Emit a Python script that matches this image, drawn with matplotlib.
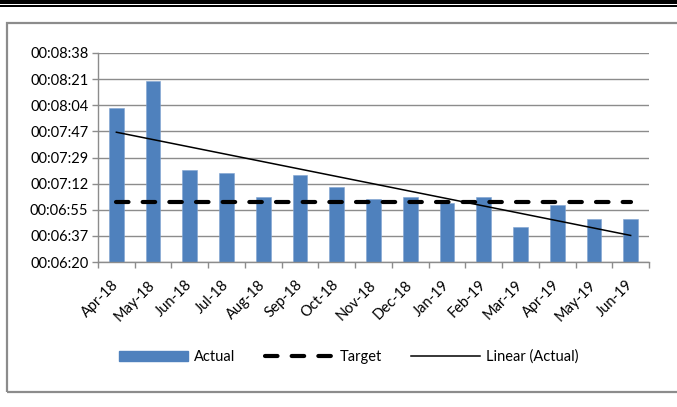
import matplotlib.pyplot as plt
import numpy as np
from matplotlib.patches import Rectangle
from matplotlib.lines import Line2D
from matplotlib.patches import Patch

months = ['Apr-18', 'May-18', 'Jun-18', 'Jul-18', 'Aug-18', 'Sep-18', 'Oct-18', 'Nov-18',
          'Dec-18', 'Jan-19', 'Feb-19', 'Mar-19', 'Apr-19', 'May-19', 'Jun-19']
# actual times in seconds
actual = [482, 500, 441, 439, 423, 438, 430, 421.5, 423, 419, 423, 403.5, 418, 408.5, 408.5]
target = [420] * len(months)
# y ticks in fraction of a day (excel time axis)
ytick_days = [0.0044, 0.0046, 0.0048, 0.0050, 0.0052, 0.0054, 0.0056, 0.0058, 0.0060]

def fmt_time(sec):
    s = int(round(sec))
    return '%02d:%02d:%02d' % (s // 3600, (s % 3600) // 60, s % 60)

plt.rcParams['font.family'] = ['Lato', 'DejaVu Sans']
fs = 10.5

fig = plt.figure(figsize=(6.77, 4.07), dpi=100)
W, H = 677, 407

# the double rule at the top of the page
fig.add_artist(Rectangle((0, 1 - 4 / H), 1, 4 / H, transform=fig.transFigure, color='black', lw=0))
fig.add_artist(Rectangle((0, 1 - 7.3 / H), 1, 2.3 / H, transform=fig.transFigure, color='black', lw=0))
# chart frame
fig.add_artist(Rectangle((7 / W, 15 / H), 1.05, (392 - 23) / H, transform=fig.transFigure,
                         fill=False, ec='#8c8c8c', lw=1.6))

ax = fig.add_axes([98 / W, (H - 262) / H, (649 - 98) / W, (262 - 53) / H])
x = np.arange(len(months))
yticks = [d * 86400 for d in ytick_days]

ax.bar(x, actual, width=0.4, color='#4F81BD', edgecolor='#7fa3d1', linewidth=0.4, zorder=2)
ax.plot(x, target, color='black', lw=3, dashes=(3, 3.4), dash_capstyle='round', zorder=3)
coef = np.polyfit(x, actual, 1)
ax.plot(x, np.polyval(coef, x), color='black', lw=1.1, zorder=4)

ax.set_xlim(-0.5, len(months) - 0.5)
ax.set_ylim(yticks[0], yticks[-1])
ax.set_yticks(yticks)
ax.set_yticklabels([fmt_time(v) for v in yticks], fontsize=fs)
ax.grid(axis='y', color='#8c8c8c', lw=1.0, zorder=0)
ax.tick_params(axis='y', length=4, width=1, color='#8c8c8c', pad=3)

ax.set_xticks(x)
ax.set_xticklabels(months, fontsize=fs, rotation=45, ha='right', va='center', rotation_mode='anchor')
ax.tick_params(axis='x', which='major', length=0, pad=15)
ax.set_xticks(np.arange(-0.5, len(months)), minor=True)
ax.tick_params(axis='x', which='minor', length=4, width=1, color='#8c8c8c')

for s in ['top', 'right']:
    ax.spines[s].set_visible(False)
for s in ['left', 'bottom']:
    ax.spines[s].set_color('#8c8c8c')
    ax.spines[s].set_linewidth(1.0)

handles = [Patch(color='#4F81BD'),
           Line2D([], [], color='black', lw=3, dashes=(3, 3.4), dash_capstyle='round'),
           Line2D([], [], color='black', lw=1.1)]
fig.legend(handles, ['Actual', 'Target', 'Linear (Actual)'], loc='center',
           bbox_to_anchor=(349 / W, 1 - 357 / H), ncol=3, frameon=False, fontsize=fs,
           handlelength=4.7, handletextpad=0.45, columnspacing=2.0)

fig.savefig('out.png', dpi=100)
